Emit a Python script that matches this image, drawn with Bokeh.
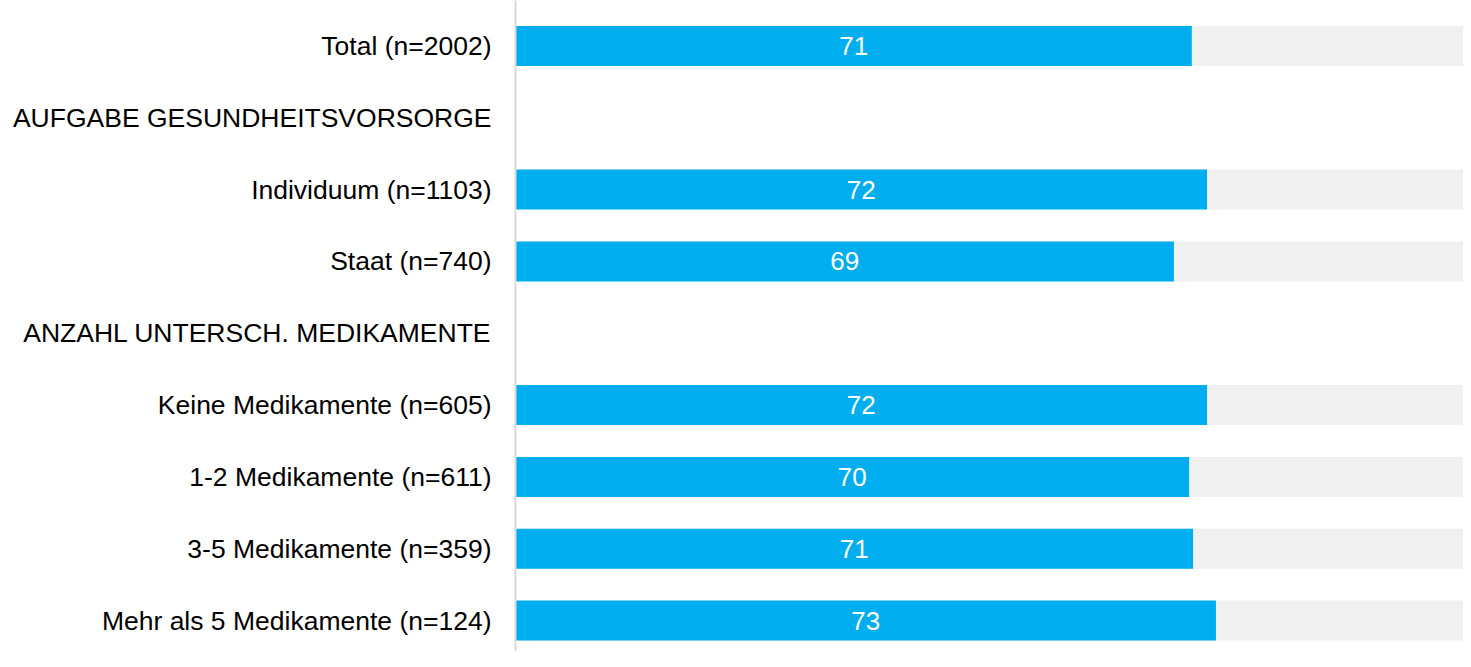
from bokeh.plotting import figure
from bokeh.models import Range1d, FixedTicker, ColumnDataSource
from bokeh.core.properties import value
from bokeh.embed import file_html
from bokeh.resources import INLINE

# ---- data ----
categories = [
    "Total (n=2002)",
    "AUFGABE GESUNDHEITSVORSORGE",
    "Individuum (n=1103)",
    "Staat (n=740)",
    "ANZAHL UNTERSCH. MEDIKAMENTE",
    "Keine Medikamente (n=605)",
    "1-2 Medikamente (n=611)",
    "3-5 Medikamente (n=359)",
    "Mehr als 5 Medikamente (n=124)",
]
# None = group header row (no bar)
values = [70.65, None, 72.24, 68.78, None, 72.24, 70.37, 70.78, 73.17]
max_value = 100

# ---- build sources ----
rows = [i for i, v in enumerate(values) if v is not None]
bar_vals = [values[i] for i in rows]
src = ColumnDataSource(dict(
    y=rows,
    v=bar_vals,
    mid=[v / 2 for v in bar_vals],
    full=[max_value] * len(rows),
    lab=[str(int(round(v))) for v in bar_vals],
))

FONT = "Liberation Sans"

p = figure(
    width=1463, height=651,
    x_range=Range1d(0, 99.03),
    y_range=Range1d(8.43, -0.632),
    output_backend="svg", toolbar_location=None,
    x_axis_location=None, y_axis_location="left",
    min_border_left=515, min_border_right=0,
    min_border_top=0, min_border_bottom=0,
)
p.outline_line_color = None
p.xgrid.visible = False
p.ygrid.visible = False
p.background_fill_color = "white"
p.border_fill_color = "white"

BAR_H = 0.557
p.hbar(y="y", left=0, right="full", height=BAR_H, source=src,
       fill_color="#f0f0f0", line_color=None)
p.hbar(y="y", left=0, right="v", height=BAR_H, source=src,
       fill_color="#00aeef", line_color=None)
p.text(x="mid", y="y", text="lab", source=src,
       text_align="center", text_baseline="middle",
       text_color="white", text_font=value(FONT), text_font_size="26px")

ax = p.yaxis[0]
ax.ticker = FixedTicker(ticks=list(range(len(categories))))
ax.major_label_overrides = {i: c for i, c in enumerate(categories)}
ax.major_label_text_font = FONT
ax.major_label_text_font_size = "26.5px"
ax.major_label_text_color = "#000000"
ax.major_label_standoff = 24
ax.major_tick_out = 0
ax.major_tick_in = 0
ax.minor_tick_out = 0
ax.minor_tick_in = 0
ax.major_tick_line_color = None
ax.minor_tick_line_color = None
ax.axis_line_color = "#d9d9d9"
ax.axis_line_width = 2

open("out.html", "w").write(file_html(p, INLINE))
